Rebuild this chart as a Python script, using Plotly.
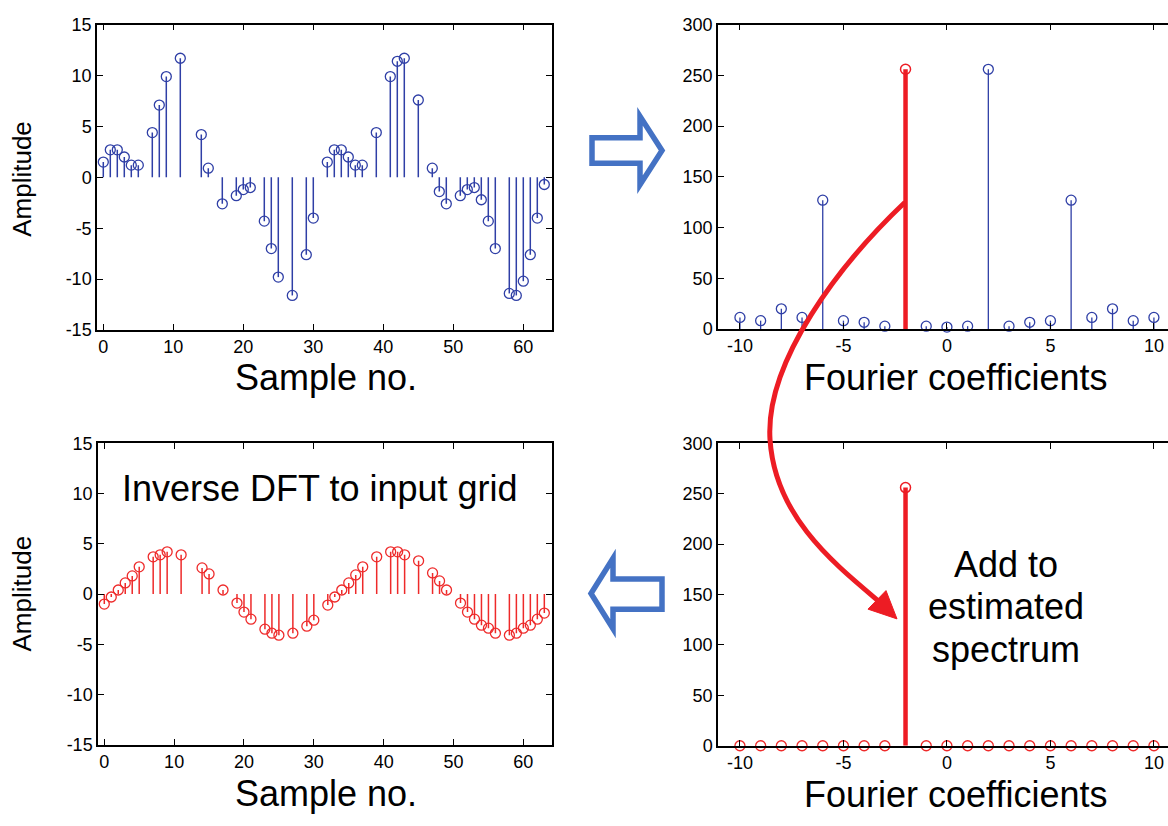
import plotly.graph_objects as go

# ---------------- data ----------------
sample_n = [0, 1, 2, 3, 4, 5, 7, 8, 9, 11, 14, 15, 17, 19, 20, 21, 23, 24, 25, 27, 29, 30,
            32, 33, 34, 35, 36, 37, 39, 41, 42, 43, 45, 47, 48, 49, 51, 52, 53, 54, 55, 56,
            58, 59, 60, 61, 62, 63]
signal = [1.5, 2.7, 2.7, 2.0, 1.2, 1.2, 4.4, 7.1, 9.9, 11.7, 4.2, 0.9, -2.6, -1.8, -1.2, -1.0,
          -4.3, -7.0, -9.8, -11.6, -7.6, -4.0,
          1.5, 2.7, 2.7, 2.0, 1.2, 1.2, 4.4, 9.9, 11.4, 11.7, 7.6, 0.9, -1.4, -2.6, -1.8, -1.2,
          -1.0, -2.2, -4.3, -7.0, -11.4, -11.6, -10.2, -7.6, -4.0, -0.7]
recon = [-1.0, -0.3, 0.4, 1.1, 1.8, 2.7, 3.7, 3.9, 4.2, 3.9, 2.6, 2.0, 0.4, -0.9, -1.8, -2.5,
         -3.5, -3.9, -4.1, -3.9, -3.2, -2.6,
         -1.1, -0.3, 0.4, 1.1, 1.9, 2.7, 3.7, 4.2, 4.2, 3.9, 3.3, 2.1, 1.3, 0.4, -0.9, -1.8,
         -2.5, -3.1, -3.4, -3.9, -4.1, -3.9, -3.4, -3.1, -2.5, -1.9]

coef_k = [-10, -9, -8, -7, -6, -5, -4, -3, -1, 0, 1, 2, 3, 4, 5, 6, 7, 8, 9, 10]
coef_mag = [11.5, 8.3, 20, 11.5, 127, 8.3, 6.7, 2.9, 2.9, 2.0, 2.9, 256, 2.9, 6.7, 8.3, 127,
            11.5, 20, 8.3, 11.5]
sel_k = [-2]
sel_mag = [256]
est_mag = [0, 0, 0, 0, 0, 0, 0, 0, 0, 0, 0, 0, 0, 0, 0, 0, 0, 0, 0, 0]

x_ticks_time = [0, 10, 20, 30, 40, 50, 60]
y_ticks_amp = [-15, -10, -5, 0, 5, 10, 15]
x_ticks_freq = [-10, -5, 0, 5, 10]
y_ticks_mag = [0, 50, 100, 150, 200, 250, 300]

# ---------------- style ----------------
W, H = 1168, 826
BLUE = "#2F3FA6"
RED = "#EE2A2A"
THICK_RED = "#ED1C24"
ARROW_BLUE = "#4472C4"
FONT = "Arial, Liberation Sans, sans-serif"


def px(x, y):
    return x / W, 1 - y / H


def pstr(pts):
    out = []
    for i, (x, y) in enumerate(pts):
        a, b = px(x, y)
        out.append(("M" if i == 0 else "L") + f"{a:.5f},{b:.5f}")
    return " ".join(out) + " Z"


def stems(xs, ys):
    sx, sy = [], []
    for x, y in zip(xs, ys):
        sx += [x, x, None]
        sy += [0, y, None]
    return sx, sy


fig = go.Figure()


def add_stem(xs, ys, color, xa, ya, lw=1.5, msize=10, mlw=1.3):
    sx, sy = stems(xs, ys)
    fig.add_trace(go.Scatter(x=sx, y=sy, mode="lines", line=dict(color=color, width=lw),
                             xaxis=xa, yaxis=ya, showlegend=False, hoverinfo="skip"))
    fig.add_trace(go.Scatter(x=xs, y=ys, mode="markers",
                             marker=dict(symbol="circle-open", size=msize, color=color,
                                         line=dict(width=mlw, color=color)),
                             xaxis=xa, yaxis=ya, showlegend=False, cliponaxis=False))


add_stem(sample_n, signal, BLUE, "x", "y")
add_stem(coef_k, coef_mag, BLUE, "x2", "y2", lw=1.3)
add_stem(sel_k, sel_mag, THICK_RED, "x2", "y2", lw=4.5, msize=10, mlw=1.5)
add_stem(sample_n, recon, RED, "x3", "y3")
add_stem(coef_k, est_mag, RED, "x4", "y4", lw=1.3)
add_stem(sel_k, sel_mag, THICK_RED, "x4", "y4", lw=4.5, msize=10, mlw=1.5)


def dom_x(a, b):
    return [a / W, b / W]


def dom_y(top, bottom):
    return [1 - bottom / H, 1 - top / H]


axis_common = dict(showline=True, linecolor="black", linewidth=1.5, ticks="inside",
                   ticklen=6, tickwidth=1.3, tickcolor="black", showgrid=False,
                   zeroline=False, tickmode="array",
                   tickfont=dict(family=FONT, size=18, color="black"))


def ticks(vals):
    return dict(tickvals=vals, ticktext=[str(v) for v in vals])


fig.update_layout(
    width=W, height=H, margin=dict(l=0, r=0, t=0, b=0),
    paper_bgcolor="white", plot_bgcolor="white", showlegend=False,
    xaxis=dict(domain=dom_x(97, 552), range=[-0.9, 64.1], mirror="ticks", anchor="y",
               **ticks(x_ticks_time), **axis_common),
    yaxis=dict(domain=dom_y(15, 328), range=[-15, 15], mirror="ticks", anchor="x",
               **ticks(y_ticks_amp), **axis_common),
    xaxis2=dict(domain=dom_x(718, 1168), range=[-11.06, 10.68], mirror="ticks", anchor="y2",
                **ticks(x_ticks_freq), **axis_common),
    yaxis2=dict(domain=dom_y(15, 327), range=[0, 300], mirror=False, anchor="x2",
                **ticks(y_ticks_mag), **axis_common),
    xaxis3=dict(domain=dom_x(98, 552), range=[-0.9, 64.1], mirror="ticks", anchor="y3",
                **ticks(x_ticks_time), **axis_common),
    yaxis3=dict(domain=dom_y(444, 753), range=[-15, 15], mirror="ticks", anchor="x3",
                **ticks(y_ticks_amp), **axis_common),
    xaxis4=dict(domain=dom_x(718, 1168), range=[-11.06, 10.68], mirror="ticks", anchor="y4",
                **ticks(x_ticks_freq), **axis_common),
    yaxis4=dict(domain=dom_y(444, 754), range=[0, 300], mirror=False, anchor="x4",
                **ticks(y_ticks_mag), **axis_common),
)

# ---------------- text ----------------
def note(text, x, y, size, angle=0):
    a, b = px(x, y)
    fig.add_annotation(text=text, x=a, y=b, xref="paper", yref="paper", showarrow=False,
                       textangle=angle, xanchor="center", yanchor="middle",
                       font=dict(family=FONT, size=size, color="black"))


note("Amplitude", 22, 173, 26, -90)
note("Amplitude", 22, 598, 26, -90)
note("Sample no.", 326, 377, 36)
note("Sample no.", 326, 803, 36)
note("Fourier coefficients", 955, 377, 36)
note("Fourier coefficients", 955, 804, 36)
note("Inverse DFT to input grid", 320, 490, 36)
note("Add to", 1006, 568, 36)
note("estimated", 1006, 611, 36)
note("spectrum", 1006, 655, 36)

# ---------------- decorations ----------------
# hollow blue arrows
right_arrow = [(592, 131), (640, 131), (640, 109), (662, 144), (640, 179), (640, 157), (592, 157)]
left_arrow = [(662, 583), (613, 583), (613, 562), (591, 598), (613, 634), (613, 614), (662, 614)]
for pts in (right_arrow, left_arrow):
    fig.add_shape(type="path", path=pstr(pts), xref="paper", yref="paper",
                  line=dict(color=ARROW_BLUE, width=5.5), fillcolor="white", layer="above")

# red curved arrow
def cpath(segs):
    s = ""
    for cmd, pts in segs:
        s += cmd + " ".join(f"{px(x, y)[0]:.5f},{px(x, y)[1]:.5f}" for x, y in pts) + " "
    return s.strip()


curve = cpath([("M", [(905, 197)]),
               ("C", [(840, 260), (765, 360), (770, 440)]),
               ("C", [(775, 520), (835, 568), (880, 607)])])
fig.add_shape(type="path", path=curve, xref="paper", yref="paper",
              line=dict(color=THICK_RED, width=5), layer="above")
head = [(897, 624), (868, 614), (886, 595)]
fig.add_shape(type="path", path=pstr(head), xref="paper", yref="paper",
              line=dict(color=THICK_RED, width=1), fillcolor=THICK_RED, layer="above")

fig.write_html("out.html")
